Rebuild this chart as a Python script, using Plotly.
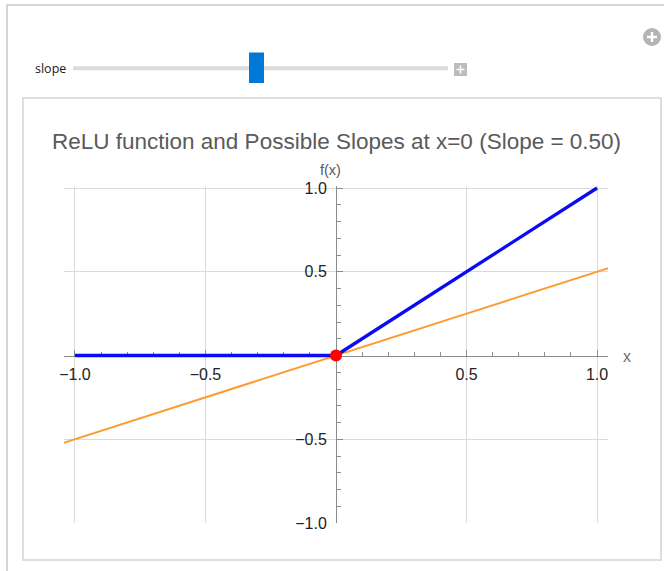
import plotly.graph_objects as go

# ---------------- data ----------------
slope = 0.50
relu_x = [-1.0, 0.0, 1.0]
relu_y = [0.0, 0.0, 1.0]
tangent_x = [-2.0, 2.0]
tangent_y = [slope * v for v in tangent_x]
point_x = [0.0]
point_y = [0.0]

x_tick_vals = [-1.0, -0.5, 0.5, 1.0]
x_tick_text = ["\u22121.0", "\u22120.5", "0.5", "1.0"]
y_tick_vals = [-1.0, -0.5, 0.5, 1.0]
y_tick_text = ["\u22121.0", "\u22120.5", "0.5", "1.0"]
x_grid_vals = [-1.0, -0.5, 0.5, 1.0]
y_grid_vals = [-0.5, 0.5, 1.0]

title_text = "ReLU function and Possible Slopes at x=0 (Slope = %.2f)" % slope
slider_label = "slope"
slider_min, slider_max = 0.0, 1.0

# ---------------- layout helpers ----------------
W, H = 664, 571


def fx(px):
    return px / W


def fy(py):
    return 1 - py / H


X_RANGE = [-1.042, 1.042]
Y_RANGE = [-1.0, 1.012]
x_dom = [fx(64), fx(608)]
y_dom = [fy(523), fy(186)]

x_axis_pos = y_dom[0] + (0 - Y_RANGE[0]) / (Y_RANGE[1] - Y_RANGE[0]) * (y_dom[1] - y_dom[0])
y_axis_pos = x_dom[0] + (0 - X_RANGE[0]) / (X_RANGE[1] - X_RANGE[0]) * (x_dom[1] - x_dom[0])

FONT = "Liberation Sans, Arial, sans-serif"
AXIS_COLOR = "#8c8c8c"
GRID_COLOR = "#dadada"

fig = go.Figure()

# dummy trace for grid axes
fig.add_trace(go.Scatter(x=[0], y=[0], mode="markers", marker=dict(opacity=0),
                         hoverinfo="skip", showlegend=False, xaxis="x", yaxis="y"))

fig.add_trace(go.Scatter(x=tangent_x, y=tangent_y, mode="lines",
                         line=dict(color="#ff9a2e", width=2),
                         showlegend=False, xaxis="x2", yaxis="y2"))
fig.add_trace(go.Scatter(x=relu_x, y=relu_y, mode="lines",
                         line=dict(color="#0a0af5", width=3.3),
                         showlegend=False, xaxis="x2", yaxis="y2"))
fig.add_trace(go.Scatter(x=point_x, y=point_y, mode="markers",
                         marker=dict(color="#ff0000", size=12),
                         showlegend=False, xaxis="x2", yaxis="y2", cliponaxis=False))

fig.update_layout(
    width=W, height=H,
    margin=dict(l=0, r=0, t=0, b=0, pad=0, autoexpand=False),
    paper_bgcolor="white",
    plot_bgcolor="rgba(0,0,0,0)",
    showlegend=False,
    xaxis=dict(domain=x_dom, range=X_RANGE, showgrid=True, gridcolor=GRID_COLOR,
               tickmode="array", tickvals=x_grid_vals, showticklabels=False,
               ticks="", showline=False, zeroline=False, fixedrange=True, automargin=False),
    yaxis=dict(domain=y_dom, range=Y_RANGE, showgrid=True, gridcolor=GRID_COLOR,
               tickmode="array", tickvals=y_grid_vals, showticklabels=False,
               ticks="", showline=False, zeroline=False, fixedrange=True, automargin=False),
    xaxis2=dict(overlaying="x", anchor="free", position=x_axis_pos, range=X_RANGE,
                showgrid=False, zeroline=False, showline=True, linecolor=AXIS_COLOR,
                linewidth=1, tickmode="array", tickvals=x_tick_vals, ticktext=x_tick_text,
                ticks="inside", ticklen=6, tickcolor=AXIS_COLOR,
                minor=dict(ticks="inside", dtick=0.1, tick0=0, ticklen=4,
                           tickcolor=AXIS_COLOR, showgrid=False),
                tickfont=dict(family=FONT, size=16, color="#222222"),
                ticklabelstandoff=4, layer="below traces", fixedrange=True, automargin=False),
    yaxis2=dict(overlaying="y", anchor="free", position=y_axis_pos, range=Y_RANGE,
                showgrid=False, zeroline=False, showline=True, linecolor=AXIS_COLOR,
                linewidth=1, tickmode="array", tickvals=y_tick_vals, ticktext=y_tick_text,
                ticks="inside", ticklen=6, tickcolor=AXIS_COLOR,
                minor=dict(ticks="inside", dtick=0.1, tick0=0, ticklen=4,
                           tickcolor=AXIS_COLOR, showgrid=False),
                tickfont=dict(family=FONT, size=16, color="#222222"),
                ticklabelstandoff=6, layer="below traces", fixedrange=True, automargin=False),
)

annotations = [
    dict(text=title_text, x=fx(336), y=fy(141), xref="paper", yref="paper",
         showarrow=False, xanchor="center", yanchor="middle",
         font=dict(family=FONT, size=22.5, color="#5a5a5a")),
    dict(text="f(x)", x=fx(330), y=fy(170), xref="paper", yref="paper",
         showarrow=False, xanchor="center", yanchor="middle",
         font=dict(family=FONT, size=14.5, color="#5a5a5a")),
    dict(text="x", x=fx(627), y=fy(356), xref="paper", yref="paper",
         showarrow=False, xanchor="center", yanchor="middle",
         font=dict(family=FONT, size=16, color="#707070")),
    dict(text=slider_label, x=fx(50), y=fy(68), xref="paper", yref="paper",
         showarrow=False, xanchor="center", yanchor="middle",
         font=dict(family="Open Sans, Noto Sans, sans-serif", size=12.5, color="#1a1a1a")),
]
fig.update_layout(annotations=annotations)

# slider geometry (UI chrome)
track_x0, track_x1 = 73, 448
thumb_w = 15
travel0, travel1 = 73, 440
frac = (slope - slider_min) / (slider_max - slider_min)
thumb_c = travel0 + frac * (travel1 - travel0)

shapes = [
    # outer frame
    dict(type="rect", xref="paper", yref="paper", x0=fx(7), y0=fy(5), x1=fx(700), y1=fy(600),
         line=dict(color="#c8c8c8", width=1.5), fillcolor="rgba(0,0,0,0)", layer="below"),
    # inner panel
    dict(type="rect", xref="paper", yref="paper", x0=fx(23), y0=fy(98), x1=fx(661), y1=fy(560),
         line=dict(color="#dedede", width=2), fillcolor="rgba(0,0,0,0)", layer="below"),
    # slider track
    dict(type="rect", xref="paper", yref="paper", x0=fx(track_x0), y0=fy(66.3), x1=fx(track_x1), y1=fy(70.3),
         line=dict(width=0), fillcolor="#dcdcdc"),
    # thumb
    dict(type="rect", xref="paper", yref="paper", x0=fx(thumb_c - thumb_w / 2), y0=fy(52.5),
         x1=fx(thumb_c + thumb_w / 2), y1=fy(83), line=dict(width=0), fillcolor="#0078d7"),
    # plus button
    dict(type="rect", xref="paper", yref="paper", x0=fx(454), y0=fy(63), x1=fx(467), y1=fy(76),
         line=dict(width=0), fillcolor="#bcbcbc"),
    dict(type="line", xref="paper", yref="paper", x0=fx(456.5), y0=fy(69.5), x1=fx(464.5), y1=fy(69.5),
         line=dict(color="white", width=1.5)),
    dict(type="line", xref="paper", yref="paper", x0=fx(460.5), y0=fy(65.5), x1=fx(460.5), y1=fy(73.5),
         line=dict(color="white", width=1.5)),
    # circle plus icon
    dict(type="circle", xref="paper", yref="paper", x0=fx(643), y0=fy(28), x1=fx(661), y1=fy(46),
         line=dict(width=0), fillcolor="#b4b4b4"),
    dict(type="line", xref="paper", yref="paper", x0=fx(647), y0=fy(37), x1=fx(657), y1=fy(37),
         line=dict(color="white", width=2.5)),
    dict(type="line", xref="paper", yref="paper", x0=fx(652), y0=fy(32), x1=fx(652), y1=fy(42),
         line=dict(color="white", width=2.5)),
]
fig.update_layout(shapes=shapes)

fig.write_html("out.html",
               config={"displayModeBar": False, "responsive": False},
               post_script="document.body.style.margin='0';document.body.style.overflow='hidden';")
